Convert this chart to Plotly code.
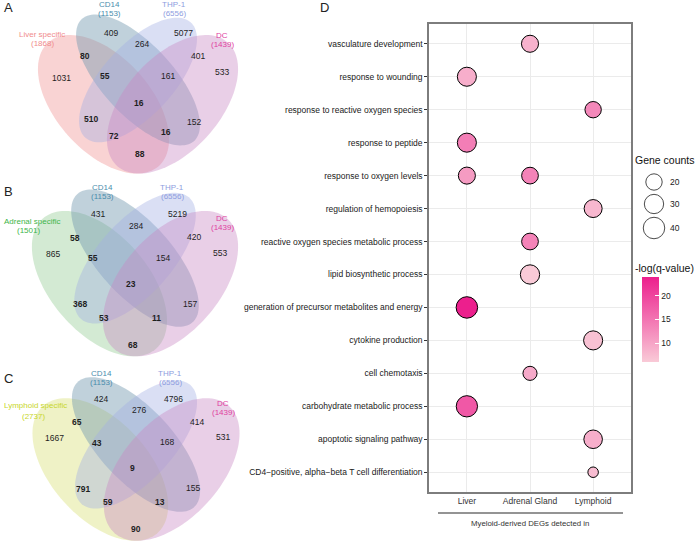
import numpy as np
import plotly.graph_objects as go

# ---------------- data ----------------
venn_sets = ["CD14", "THP-1", "DC"]
venn_set_sizes = [1153, 6556, 1439]
specific_names = ["Liver specific", "Adrenal specific", "Lymphoid specific"]
specific_sizes = [1868, 1501, 2737]
# region order: CD14, THP-1, CD14&THP-1, S&CD14, THP-1&DC, S, S&CD14&THP-1, CD14&THP-1&DC,
#               DC, all four, S&THP-1, CD14&DC, S&THP-1&DC, S&CD14&DC, S&DC
region_keys = ["C", "T", "CT", "SC", "TD", "S", "SCT", "CTD", "D", "SCTD", "ST", "CD", "STD", "SCD", "SD"]
liver_counts = [409, 5077, 264, 80, 401, 1031, 55, 161, 533, 16, 510, 152, 72, 16, 88]
adrenal_counts = [431, 5219, 284, 58, 420, 865, 55, 154, 553, 23, 368, 157, 53, 11, 68]
lymphoid_counts = [424, 4796, 276, 65, 414, 1667, 43, 168, 531, 9, 791, 155, 59, 13, 90]

terms = ["vasculature development", "response to wounding", "response to reactive oxygen species",
         "response to peptide", "response to oxygen levels", "regulation of hemopoiesis",
         "reactive oxygen species metabolic process", "lipid biosynthetic process",
         "generation of precursor metabolites and energy", "cytokine production", "cell chemotaxis",
         "carbohydrate metabolic process", "apoptotic signaling pathway",
         "CD4\u2212positive, alpha\u2212beta T cell differentiation"]
tissues = ["Liver", "Adrenal Gland", "Lymphoid"]
dot_terms = [terms[0], terms[1], terms[2], terms[3], terms[4], terms[4], terms[5], terms[6],
             terms[7], terms[8], terms[9], terms[10], terms[11], terms[12], terms[13]]
dot_tissue = ["Adrenal Gland", "Liver", "Lymphoid", "Liver", "Liver", "Adrenal Gland", "Lymphoid",
              "Adrenal Gland", "Adrenal Gland", "Liver", "Lymphoid", "Adrenal Gland", "Liver",
              "Lymphoid", "Lymphoid"]
dot_counts = [22, 29, 20, 29, 22, 21, 25, 21, 30, 40, 29, 15, 39, 27, 12]
dot_logq = [8.5, 9, 13, 14, 11, 13.5, 8, 13.5, 6, 24, 7, 9.5, 18, 9, 7.5]
size_breaks = [20, 30, 40]
cbar_ticks = [10, 15, 20]

# ---------------- layout helpers ----------------
W, H = 696, 544
FONT = "Liberation Sans"

def diam(c):
    c = np.asarray(c, dtype=float)
    lo, hi = min(dot_counts), max(dot_counts)
    return 11.5 + 11.0 * np.sqrt(np.clip((c - lo) / (hi - lo), 0, None))

# ellipse geometry (unit square, y up): x, y, a, b, rotation
ellipses = [(0.35, 0.47, 0.35, 0.20, 135), (0.50, 0.57, 0.35, 0.15, 135),
            (0.50, 0.57, 0.33, 0.15, 45), (0.65, 0.47, 0.35, 0.20, 45)]
spec_fill = ["#F08C8C", "#8CC88C", "#D4DC6A"]
spec_txt = ["#F08C8C", "#3DB54A", "#C8D62A"]
other_fill = ["#7399B0", "#A3B0E3", "#C887C2"]
other_txt = ["#4A8DAD", "#8E9DE0", "#E0409F"]
fill_op = [0.38, 0.45, 0.40, 0.40]

panels = [(138, 97, 230, 243), (135, 276, 237, 255), (136, 462, 238, 250)]
region_pos = [
    [(111, 33), (183, 33), (142, 44), (85, 56), (198, 56), (61, 78), (105, 76), (168, 76),
     (222, 72), (139, 103), (91, 119), (194, 122), (114, 136), (166, 132), (140, 154)],
    [(98, 214), (177, 214), (136, 226), (75, 238), (194, 237), (53, 254), (93, 258), (163, 258),
     (220, 253), (131, 284), (80, 304), (190, 304), (104, 318), (156, 318), (133, 345)],
    [(101, 399), (173, 399), (139, 410), (77, 422), (197, 422), (54, 438), (97, 443), (167, 442),
     (223, 437), (132, 468), (83, 489), (193, 488), (108, 502), (160, 502), (136, 529)],
]
title_pos = [
    {"S": [(42, 34), (42, 43)], "CD14": [(109, 4), (109, 13)], "THP-1": [(174, 4), (174, 13)], "DC": [(222, 35), (222, 44)]},
    {"S": [(32, 221), (28, 230)], "CD14": [(102, 187), (102, 196)], "THP-1": [(172, 187), (172, 196)], "DC": [(222, 218), (222, 227)]},
    {"S": [(35, 405), (33, 416)], "CD14": [(101, 373), (101, 382)], "THP-1": [(170, 373), (170, 382)], "DC": [(223, 403), (223, 412)]},
]
letters = [("A", 2, 7), ("B", 2, 191), ("C", 2, 378), ("D", 318, 7)]


def ellipse_path(cx, cy, sx, sy, e, n=120):
    ex, ey, a, b, rot = e
    th = np.radians(rot)
    t = np.linspace(0, 2 * np.pi, n, endpoint=False)
    X = ex + a * np.cos(t) * np.cos(th) - b * np.sin(t) * np.sin(th)
    Y = ey + a * np.cos(t) * np.sin(th) + b * np.sin(t) * np.cos(th)
    px = cx + (X - 0.5) * sx
    py = cy - (Y - 0.5) * sy
    return "M" + " L".join(f"{x:.2f},{y:.2f}" for x, y in zip(px, py)) + " Z"


fig = go.Figure()
shapes, annos = [], []

all_counts = [liver_counts, adrenal_counts, lymphoid_counts]
for p, (cx, cy, sx, sy) in enumerate(panels):
    fills = [spec_fill[p]] + other_fill
    for k, e in enumerate(ellipses):
        shapes.append(dict(type="path", path=ellipse_path(cx, cy, sx, sy, e), xref="x2", yref="y2",
                           fillcolor=fills[k], opacity=fill_op[k], line=dict(width=0), layer="above"))
    for key, val, (x, y) in zip(region_keys, all_counts[p], region_pos[p]):
        txt = f"<b>{val}</b>" if ("S" in key and len(key) > 1) else str(val)
        annos.append(dict(x=x, y=y, xref="x2", yref="y2", text=txt, showarrow=False,
                          font=dict(size=8.5, color="#1e1e1e", family=FONT), xanchor="center", yanchor="middle"))
    tp = title_pos[p]
    labels = [("S", specific_names[p], specific_sizes[p], spec_txt[p])] + \
             [(n, n, s, c) for n, s, c in zip(venn_sets, venn_set_sizes, other_txt)]
    for key, name, size, col in labels:
        (x1, y1), (x2, y2) = tp[key]
        annos.append(dict(x=x1, y=y1, xref="x2", yref="y2", text=name, showarrow=False,
                          font=dict(size=8, color=col, family=FONT), xanchor="center", yanchor="middle"))
        annos.append(dict(x=x2, y=y2, xref="x2", yref="y2", text=f"({size})", showarrow=False,
                          font=dict(size=8, color=col, family=FONT), xanchor="center", yanchor="middle"))

for t, x, y in letters:
    annos.append(dict(x=x, y=y, xref="x2", yref="y2", text=t, showarrow=False, xanchor="left",
                      yanchor="middle", font=dict(size=13, color="#222", family=FONT)))

# ---------------- dot plot ----------------
fig.add_trace(go.Scatter(
    x=dot_tissue, y=dot_terms, mode="markers", xaxis="x", yaxis="y", showlegend=False,
    marker=dict(size=diam(dot_counts) - 1, color=dot_logq,
                colorscale=[[0, "#F9CAD7"], [1, "#EC1F8D"]],
                line=dict(color="black", width=1), opacity=1,
                colorbar=dict(x=642 / W, xanchor="left", xpad=0, y=1 - 277 / H, yanchor="top", ypad=0,
                              len=85, lenmode="pixels", thickness=17, thicknessmode="pixels",
                              outlinewidth=0, ticks="inside", ticklen=4, tickcolor="white",
                              tickvals=cbar_ticks, tickfont=dict(size=8.5, color="#222", family=FONT),
                              title=dict(text=""))),
))

# size legend
fig.add_trace(go.Scatter(
    x=[654] * len(size_breaks), y=[182, 204, 228], xaxis="x2", yaxis="y2", mode="markers",
    showlegend=False, hoverinfo="skip",
    marker=dict(size=diam(size_breaks) - 1, color="white", line=dict(color="black", width=1)),
))
for b, y in zip(size_breaks, [182, 204, 228]):
    annos.append(dict(x=668, y=y, xref="x2", yref="y2", text=str(b), showarrow=False, xanchor="left",
                      yanchor="middle", font=dict(size=8.5, color="#222", family=FONT)))
annos.append(dict(x=633, y=160, xref="x2", yref="y2", text="Gene counts", showarrow=False, xanchor="left",
                  yanchor="middle", font=dict(size=10.5, color="#111", family=FONT)))
annos.append(dict(x=633, y=268, xref="x2", yref="y2", text="-log(q-value)", showarrow=False, xanchor="left",
                  yanchor="middle", font=dict(size=10.5, color="#111", family=FONT)))
annos.append(dict(x=530, y=523, xref="x2", yref="y2", text="Myeloid-derived DEGs detected in", showarrow=False,
                  xanchor="center", yanchor="middle", font=dict(size=7.8, color="#333", family=FONT)))
shapes.append(dict(type="line", x0=438, x1=623, y0=513, y1=513, xref="x2", yref="y2",
                   line=dict(color="#707070", width=1.6)))

fig.update_layout(
    width=W, height=H, margin=dict(l=0, r=0, t=0, b=0),
    paper_bgcolor="white", plot_bgcolor="rgba(0,0,0,0)", showlegend=False,
    xaxis=dict(domain=[429 / W, 631 / W], type="category", categoryorder="array", categoryarray=tissues,
               range=[-0.6, 2.6], showgrid=True, gridcolor="#EBEBEB", gridwidth=1.2,
               showline=True, mirror=True, linecolor="#7D7D7D", linewidth=1.5, ticks="",
               tickfont=dict(size=8.5, color="#333", family=FONT), fixedrange=True, zeroline=False),
    yaxis=dict(domain=[1 - 492 / H, 1 - 24 / H], type="category", categoryorder="array",
               categoryarray=list(reversed(terms)), range=[-0.6, 13.6], showgrid=True,
               gridcolor="#EBEBEB", gridwidth=1.2, showline=True, mirror=True, linecolor="#7D7D7D",
               linewidth=1.5, ticks="outside", ticklen=3, tickcolor="#333", tickwidth=1,
               tickfont=dict(size=8.5, color="#1a1a1a", family=FONT), fixedrange=True, zeroline=False),
    xaxis2=dict(domain=[0, 1], range=[0, W], visible=False, anchor="y2", fixedrange=True),
    yaxis2=dict(domain=[0, 1], range=[H, 0], visible=False, anchor="x2", fixedrange=True),
    shapes=shapes, annotations=annos,
)

fig.write_html("out.html", config={"displayModeBar": False},
               post_script="document.body.style.margin='0';document.body.style.overflow='hidden';")
